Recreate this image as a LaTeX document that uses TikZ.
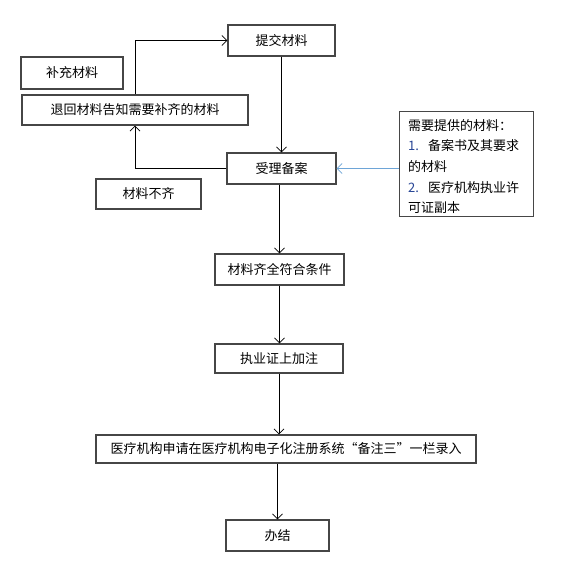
\documentclass[tikz,border=0pt]{standalone}
\usepackage{fontspec}
\newfontfamily\cjk{Noto Sans CJK SC}
\usetikzlibrary{arrows.meta}
\definecolor{boxline}{RGB}{70,70,70}
\definecolor{lightblue}{RGB}{110,165,215}
\definecolor{numblue}{RGB}{40,70,150}
\begin{document}
\begin{tikzpicture}[x=1pt,y=-1pt,
  box/.style={draw=boxline,line width=1.1pt,rectangle,inner sep=0pt,font=\cjk\fontsize{13}{16}\selectfont},
  arr/.style={draw=black,line width=0.8pt,-{Straight Barb[length=5pt,width=10pt]}},
  barr/.style={draw=lightblue,line width=0.8pt,-{Straight Barb[length=5pt,width=10pt]}}]
\useasboundingbox[fill=white] (0,0) rectangle (578,570);
\node[box,minimum width=107pt,minimum height=31pt] (tj) at (281.5,40.5) {提交材料};
\node[box,minimum width=102pt,minimum height=32pt] (bc) at (72,73) {补充材料};
\node[box,minimum width=226pt,minimum height=30pt] (th) at (135,110) {退回材料告知需要补齐的材料};
\node[box,minimum width=109pt,minimum height=31pt] (sl) at (281.5,168.5) {受理备案};
\node[box,minimum width=105pt,minimum height=30pt] (bq) at (148.5,194) {材料不齐};
\node[box,minimum width=134pt,minimum height=105pt,anchor=north west] (note) at (399,111) {};
\node[align=left,anchor=north west,text width=124pt,inner sep=0pt,
  font=\cjk\fontsize{13}{20.7}\selectfont] (notetext) at (408,119)
  {需要提供的材料：\\\textcolor{numblue}{1.}\hspace{9pt}备案书及其要求\\的材料\\\textcolor{numblue}{2.}\hspace{9pt}医疗机构执业许\\可证副本};
\node[box,minimum width=129pt,minimum height=31pt] (qq) at (279.5,269.5) {材料齐全符合条件};
\node[box,minimum width=128pt,minimum height=29pt] (zy) at (279,358.5) {执业证上加注};
\node[box,minimum width=380pt,minimum height=28pt] (yl) at (286,449) {医疗机构申请在医疗机构电子化注册系统“备注三”一栏录入};
\node[box,minimum width=103pt,minimum height=31pt] (bj) at (277.5,535.5) {办结};
\draw[arr] (tj.south) -- (tj.south |- sl.north);
\draw[arr] (th.north) |- (tj.west);
\draw[arr] (sl.west) -| (th.south);
\draw[barr] (note.west |- sl.east) -- (sl.east);
\draw[arr] (qq.north |- sl.south) -- (qq.north);
\draw[arr] (qq.south) -- (qq.south |- zy.north);
\draw[arr] (zy.south) -- (zy.south |- yl.north);
\draw[arr] (bj.north |- yl.south) -- (bj.north);
\end{tikzpicture}
\end{document}
